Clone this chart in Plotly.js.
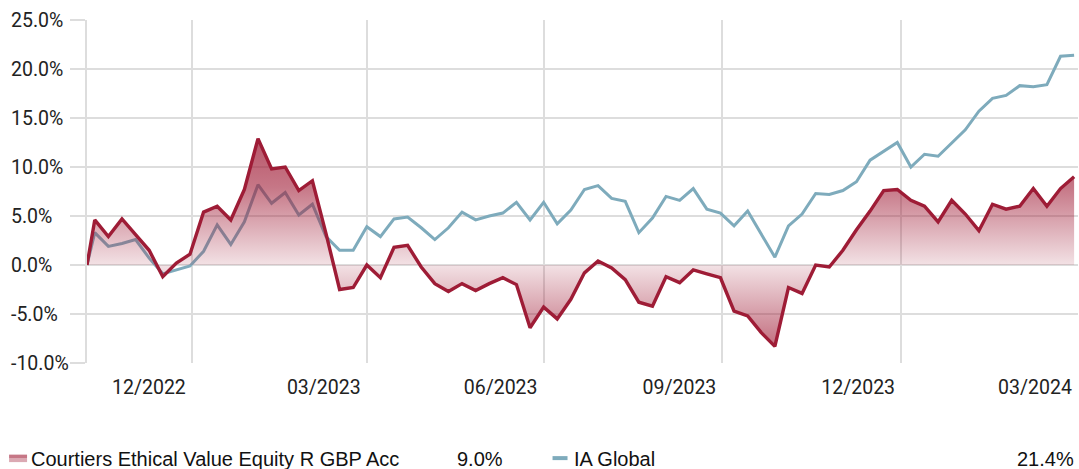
<!DOCTYPE html>
<html><head><meta charset="utf-8">
<script src="https://cdn.plot.ly/plotly-3.0.1.min.js"></script>
<style>html,body{margin:0;padding:0;background:#fff}#chart{width:1079px;height:469px}</style>
</head><body><div id="chart"></div>
<script>
const dates = ['2022-11-07',
 '2022-11-11','2022-11-18','2022-11-25','2022-12-02','2022-12-09','2022-12-16','2022-12-23','2022-12-30',
 '2023-01-06','2023-01-13','2023-01-20','2023-01-27','2023-02-03','2023-02-10','2023-02-17','2023-02-24',
 '2023-03-03','2023-03-10','2023-03-17','2023-03-24','2023-03-31','2023-04-07','2023-04-14','2023-04-21','2023-04-28',
 '2023-05-05','2023-05-12','2023-05-19','2023-05-26','2023-06-02','2023-06-09','2023-06-16','2023-06-23','2023-06-30',
 '2023-07-07','2023-07-14','2023-07-21','2023-07-28','2023-08-04','2023-08-11','2023-08-18','2023-08-25',
 '2023-09-01','2023-09-08','2023-09-15','2023-09-22','2023-09-29','2023-10-06','2023-10-13','2023-10-20','2023-10-27',
 '2023-11-03','2023-11-10','2023-11-17','2023-11-24','2023-12-01','2023-12-08','2023-12-15','2023-12-22','2023-12-29',
 '2024-01-05','2024-01-12','2024-01-19','2024-01-26','2024-02-02','2024-02-09','2024-02-16','2024-02-23',
 '2024-03-01','2024-03-08','2024-03-15','2024-03-22','2024-03-29'];

const fundName = 'Courtiers Ethical Value Equity R GBP Acc';
const fundValues = [0,
 4.6,2.9,4.7,3.1,1.5,-1.2,0.2,1.1,
 5.4,6.0,4.6,7.7,12.9,9.8,10.0,7.6,
 8.6,3.2,-2.5,-2.3,0.0,-1.3,1.8,2.0,-0.2,
 -1.9,-2.7,-1.9,-2.6,-1.9,-1.3,-2.0,-6.4,-4.3,
 -5.5,-3.5,-0.8,0.4,-0.3,-1.5,-3.8,-4.2,
 -1.2,-1.8,-0.5,-0.9,-1.3,-4.7,-5.2,-6.9,-8.3,
 -2.3,-2.9,0.0,-0.2,1.5,3.6,5.5,7.6,7.7,
 6.6,6.0,4.4,6.6,5.2,3.5,6.2,5.7,
 6.0,7.8,6.0,7.8,9.0];

const benchName = 'IA Global';
const benchValues = [0,
 3.3,1.9,2.2,2.6,0.7,-0.9,-0.5,-0.1,
 1.4,4.1,2.1,4.4,8.2,6.3,7.4,5.1,
 6.2,2.9,1.5,1.5,3.9,2.9,4.7,4.9,3.8,
 2.6,3.8,5.4,4.6,5.0,5.3,6.4,4.6,6.4,
 4.2,5.6,7.7,8.1,6.8,6.5,3.3,4.8,
 7.0,6.6,7.8,5.7,5.3,4.0,5.5,3.1,0.8,
 4.0,5.2,7.3,7.2,7.6,8.5,10.7,11.6,12.5,
 10.0,11.3,11.1,12.5,13.8,15.7,17.0,17.3,
 18.3,18.2,18.4,21.3,21.4];

const xTickDates = ['2022-12-31','2023-03-31','2023-06-30','2023-09-30','2023-12-31','2024-03-31'];
const xTickLabels = ['12/2022','03/2023','06/2023','09/2023','12/2023','03/2024'];
const yTickValues = [-10, -5, 0, 5, 10, 15, 20, 25];
const yTickLabels = ['-10.0%','-5.0%','0.0%','5.0%','10.0%','15.0%','20.0%','25.0%'];
const fundTotal = '9.0%';
const benchTotal = '21.4%';

const RED = '#9e1c36';
const BLUE = '#7eabbc';
const GRID = '#dddddd';
const FONT = 'Roboto, "Open Sans", sans-serif';
const LEGEND_FONT = '"Liberation Sans", Arial, sans-serif';

const traces = [
  {x: dates, y: benchValues, type: 'scatter', mode: 'lines', name: benchName,
   line: {color: BLUE, width: 3}, showlegend: false, hoverinfo: 'skip'},
  {x: dates, y: fundValues, type: 'scatter', mode: 'lines', name: fundName,
   line: {color: RED, width: 3.4}, fill: 'tozeroy', showlegend: false, hoverinfo: 'skip',
   fillgradient: {type: 'vertical', start: -9, stop: 13,
     colorscale: [[0, 'rgba(160,28,54,0.68)'], [0.409, 'rgba(160,28,54,0.13)'],
                  [0.77, 'rgba(160,28,54,0.6)'], [1, 'rgba(160,28,54,0.75)']]}}
];

const px2x = p => (p - 87) / 992;
const py2y = p => (363.3 - p) / 343.3;

const yLabelAnnotations = yTickValues.map((v, i) => ({
  xref: 'paper', yref: 'y', x: px2x(9), y: v, xanchor: 'left', yanchor: 'middle',
  text: yTickLabels[i], showarrow: false, font: {family: FONT, size: 19.5, color: '#222'}
}));

const legendFont = {family: LEGEND_FONT, size: 20, color: '#111'};

const layout = {
  width: 1079, height: 469,
  margin: {l: 87, r: 1, t: 20, b: 106},
  paper_bgcolor: '#fff', plot_bgcolor: '#fff',
  font: {family: FONT, color: '#222'},
  hovermode: false,
  xaxis: {type: 'date', range: ['2022-11-07', '2024-03-31'],
    tickmode: 'array', tickvals: xTickDates, ticktext: xTickLabels,
    showgrid: true, gridcolor: GRID, gridwidth: 2, zeroline: false, showline: false,
    ticks: '', ticklabelshift: -43, ticklabelstandoff: 10,
    tickfont: {family: FONT, size: 19.5, color: '#222'}},
  yaxis: {range: [-10, 25], tickmode: 'array', tickvals: yTickValues, showticklabels: false,
    showgrid: true, gridcolor: GRID, gridwidth: 2, zeroline: false,
    showline: true, linecolor: GRID, linewidth: 2,
    ticks: 'outside', ticklen: 15, tickwidth: 2, tickcolor: GRID},
  shapes: [
    {type: 'rect', xref: 'paper', yref: 'paper', x0: px2x(9), x1: px2x(27), y0: py2y(462.5), y1: py2y(458.5),
     fillcolor: 'rgba(160,28,54,0.38)', line: {width: 0}},
    {type: 'rect', xref: 'paper', yref: 'paper', x0: px2x(9), x1: px2x(27), y0: py2y(458.5), y1: py2y(455),
     fillcolor: 'rgba(160,28,54,0.6)', line: {width: 0}},
    {type: 'line', xref: 'paper', yref: 'paper', x0: px2x(553), x1: px2x(568), y0: py2y(458.5), y1: py2y(458.5),
     line: {color: BLUE, width: 4}}
  ],
  annotations: yLabelAnnotations.concat([
    {xref: 'paper', yref: 'paper', x: px2x(29), y: py2y(459), xanchor: 'left', yanchor: 'middle',
     text: fundName, showarrow: false, font: legendFont},
    {xref: 'paper', yref: 'paper', x: px2x(505), y: py2y(459), xanchor: 'right', yanchor: 'middle',
     text: fundTotal, showarrow: false, font: legendFont},
    {xref: 'paper', yref: 'paper', x: px2x(572), y: py2y(459), xanchor: 'left', yanchor: 'middle',
     text: benchName, showarrow: false, font: legendFont},
    {xref: 'paper', yref: 'paper', x: px2x(1077), y: py2y(459), xanchor: 'right', yanchor: 'middle',
     text: benchTotal, showarrow: false, font: legendFont}
  ])
};

Plotly.newPlot('chart', traces, layout, {displayModeBar: false, staticPlot: true});
</script>
</body></html>
